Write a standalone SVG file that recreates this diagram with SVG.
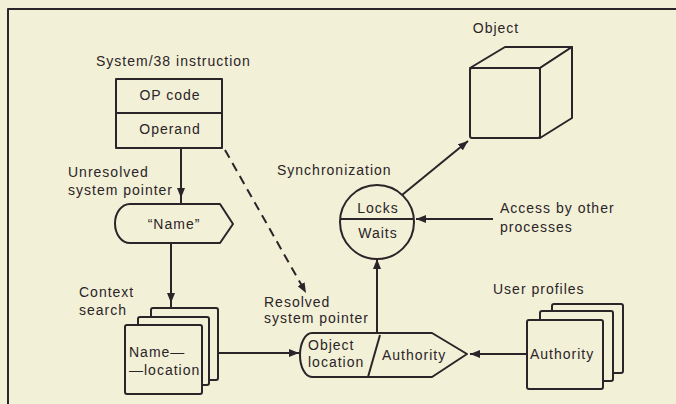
<svg xmlns="http://www.w3.org/2000/svg" width="676" height="404" viewBox="0 0 676 404">
  <style>
    .ln { fill: none; stroke: #2b2428; stroke-width: 2; stroke-linejoin: round; }
    .shape { fill: #f2f0d7; stroke: #2b2428; stroke-width: 2; stroke-linejoin: round; }
    .t { font-family: "Liberation Sans", Arial, sans-serif; font-size: 14px; fill: #2b2428; letter-spacing: 1px; }
    .c { text-anchor: middle; }
  </style>
  <defs>
    <marker id="arrow" markerUnits="userSpaceOnUse" markerWidth="11" markerHeight="8" refX="10" refY="4" orient="auto">
      <path d="M0,0 L10,4 L0,8 z" fill="#2b2428"/>
    </marker>
  </defs>

  <!-- page background and frame -->
  <rect x="0" y="0" width="676" height="404" fill="#f2f0d7"/>
  <path class="ln" d="M8,404 L8,9 L676,9" stroke-width="2.5"/>

  <!-- connectors -->
  <g id="connectors">
    <path class="ln" d="M181,148 L181,198 L181,204" marker-mid="url(#arrow)"/>
    <path class="ln" d="M171,243 L171,303 L171,308" marker-mid="url(#arrow)"/>
    <path class="ln" d="M225,150 L306,293" stroke-dasharray="9,6" marker-end="url(#arrow)"/>
    <path class="ln" d="M218,353 L299,353" marker-end="url(#arrow)"/>
    <path class="ln" d="M377,333 L377,259" marker-end="url(#arrow)"/>
    <path class="ln" d="M402,195 L468,141" marker-end="url(#arrow)"/>
    <path class="ln" d="M493,219 L416,219" marker-end="url(#arrow)"/>
    <path class="ln" d="M527,354 L470,354" marker-end="url(#arrow)"/>
  </g>

  <!-- instruction -->
  <g id="instruction">
    <text class="t" x="96" y="66">System/38 instruction</text>
    <rect class="shape" x="116" y="79" width="106" height="69"/>
    <line class="ln" x1="116" y1="113" x2="222" y2="113"/>
    <text class="t c" x="170" y="100">OP code</text>
    <text class="t c" x="170" y="134">Operand</text>
  </g>

  <g id="unresolved-label">
    <text class="t" x="68" y="177">Unresolved</text>
    <text class="t" x="68" y="195">system pointer</text>
  </g>

  <!-- unresolved pointer "Name" -->
  <g id="name">
    <path class="shape" d="M130,204 L220,204 L233,224 L220,243 L130,243 A15,19.5 0 0 1 130,204 Z"/>
    <text class="t c" x="174" y="229">“Name”</text>
  </g>

  <!-- context search stack -->
  <g id="context">
    <text class="t" x="79" y="297">Context</text>
    <text class="t" x="79" y="315">search</text>
    <rect class="shape" x="151" y="308" width="67" height="72" rx="2"/>
    <rect class="shape" x="138" y="317" width="71" height="68" rx="2"/>
    <rect class="shape" x="125" y="325" width="77" height="69" rx="2"/>
    <text class="t" x="129" y="357">Name—</text>
    <text class="t" x="129" y="375">—location</text>
  </g>

  <g id="resolved-label">
    <text class="t" x="264" y="307">Resolved</text>
    <text class="t" x="264" y="323">system pointer</text>
  </g>

  <!-- resolved pointer -->
  <g id="resolved">
    <path class="shape" d="M312,333 L432,333 L467,354 L432,377 L312,377 A12,22 0 0 1 312,333 Z"/>
    <path class="ln" d="M380,335 L368,377" stroke-width="1.6"/>
    <text class="t" x="308" y="350">Object</text>
    <text class="t" x="308" y="367">location</text>
    <text class="t" x="382" y="360">Authority</text>
  </g>

  <!-- synchronization -->
  <g id="sync">
    <text class="t" x="277" y="175">Synchronization</text>
    <circle class="shape" cx="377" cy="222" r="37"/>
    <line class="ln" x1="340" y1="219" x2="414" y2="219"/>
    <text class="t c" x="378" y="213">Locks</text>
    <text class="t c" x="378" y="238">Waits</text>
  </g>

  <g id="access">
    <text class="t" x="500" y="213">Access by other</text>
    <text class="t" x="500" y="232">processes</text>
  </g>

  <!-- object cube -->
  <g id="object">
    <text class="t c" x="496" y="33">Object</text>
    <path class="shape" d="M470,68 L505,47 L572,47 L540,68 Z"/>
    <path class="shape" d="M540,68 L572,47 L572,118 L540,138 Z"/>
    <rect class="shape" x="470" y="68" width="70" height="70" rx="2"/>
  </g>

  <!-- user profiles stack -->
  <g id="profiles">
    <text class="t" x="493" y="294">User profiles</text>
    <rect class="shape" x="552" y="304" width="71" height="69" rx="2"/>
    <rect class="shape" x="540" y="311" width="73" height="70" rx="2"/>
    <rect class="shape" x="527" y="320" width="76" height="69" rx="2"/>
    <text class="t" x="530" y="359">Authority</text>
  </g>
</svg>
